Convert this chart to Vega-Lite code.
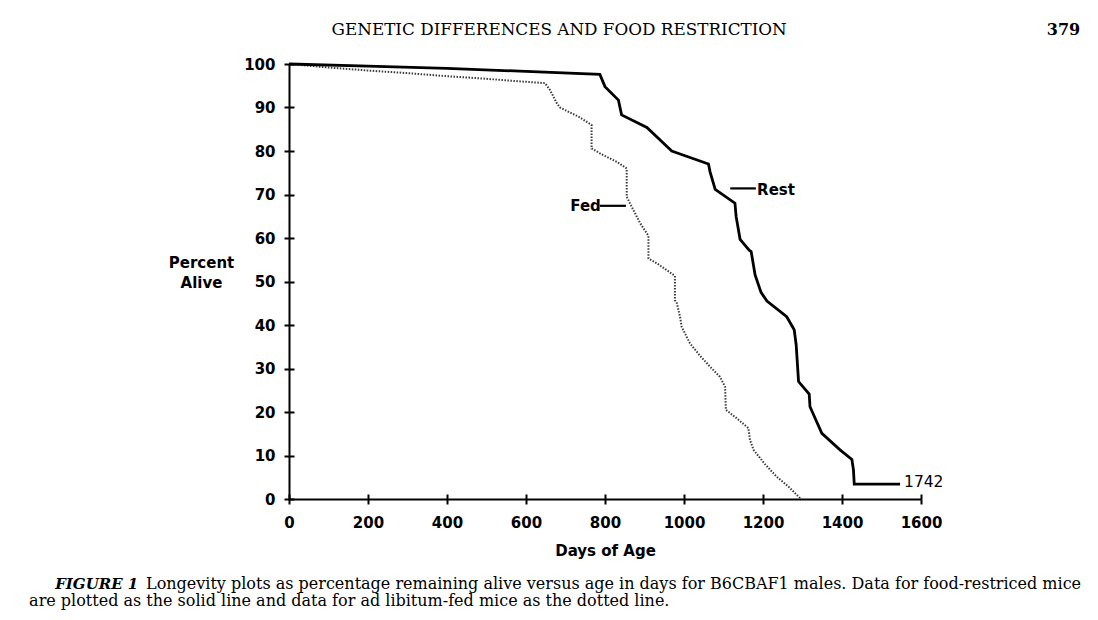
{
  "$schema": "https://vega.github.io/schema/vega-lite/v6.json",
  "width": 632,
  "height": 435,
  "autosize": {"type": "none"},
  "padding": {"left": 289, "top": 64, "right": 177, "bottom": 121},
  "background": "white",
  "config": {
    "view": {"stroke": null},
    "axis": {
      "domainColor": "black",
      "domainWidth": 2,
      "tickColor": "black",
      "tickWidth": 2,
      "tickSize": 5,
      "labelFlush": false,
      "grid": true,
      "gridColor": "black",
      "gridWidth": 2,
      "gridOpacity": 1,
      "labelFont": "DejaVu Sans",
      "labelFontWeight": "bold",
      "labelFontSize": 15,
      "labelColor": "black",
      "titleFont": "DejaVu Sans",
      "titleFontWeight": "bold",
      "titleFontSize": 15,
      "titleColor": "black"
    }
  },
  "datasets": {
    "curves": [
      {"group": "Rest", "day": 0, "pct": 100},
      {"group": "Rest", "day": 200, "pct": 99.5},
      {"group": "Rest", "day": 400, "pct": 99.0},
      {"group": "Rest", "day": 600, "pct": 98.3},
      {"group": "Rest", "day": 787, "pct": 97.6},
      {"group": "Rest", "day": 800, "pct": 94.8},
      {"group": "Rest", "day": 834, "pct": 91.7},
      {"group": "Rest", "day": 842, "pct": 88.3},
      {"group": "Rest", "day": 906, "pct": 85.4},
      {"group": "Rest", "day": 969, "pct": 80.0},
      {"group": "Rest", "day": 990, "pct": 79.3},
      {"group": "Rest", "day": 1062, "pct": 77.0},
      {"group": "Rest", "day": 1066, "pct": 75.2},
      {"group": "Rest", "day": 1079, "pct": 71.2},
      {"group": "Rest", "day": 1129, "pct": 68.0},
      {"group": "Rest", "day": 1132, "pct": 64.9},
      {"group": "Rest", "day": 1142, "pct": 59.7},
      {"group": "Rest", "day": 1165, "pct": 57.2},
      {"group": "Rest", "day": 1170, "pct": 56.9},
      {"group": "Rest", "day": 1180, "pct": 51.5},
      {"group": "Rest", "day": 1195, "pct": 47.5},
      {"group": "Rest", "day": 1210, "pct": 45.5},
      {"group": "Rest", "day": 1260, "pct": 41.9},
      {"group": "Rest", "day": 1279, "pct": 38.9},
      {"group": "Rest", "day": 1284, "pct": 35.4},
      {"group": "Rest", "day": 1290, "pct": 27.0},
      {"group": "Rest", "day": 1317, "pct": 24.1},
      {"group": "Rest", "day": 1319, "pct": 21.2},
      {"group": "Rest", "day": 1349, "pct": 15.1},
      {"group": "Rest", "day": 1395, "pct": 11.3},
      {"group": "Rest", "day": 1425, "pct": 9.1},
      {"group": "Rest", "day": 1429, "pct": 6.7},
      {"group": "Rest", "day": 1431, "pct": 3.4},
      {"group": "Rest", "day": 1547, "pct": 3.4},
      {"group": "Fed", "day": 0, "pct": 100},
      {"group": "Fed", "day": 50, "pct": 99.6},
      {"group": "Fed", "day": 100, "pct": 99.2},
      {"group": "Fed", "day": 200, "pct": 98.5},
      {"group": "Fed", "day": 300, "pct": 97.9},
      {"group": "Fed", "day": 400, "pct": 97.2},
      {"group": "Fed", "day": 500, "pct": 96.6},
      {"group": "Fed", "day": 570, "pct": 96.1},
      {"group": "Fed", "day": 648, "pct": 95.6},
      {"group": "Fed", "day": 661, "pct": 94.0},
      {"group": "Fed", "day": 678, "pct": 91.0},
      {"group": "Fed", "day": 686, "pct": 90.0},
      {"group": "Fed", "day": 710, "pct": 88.9},
      {"group": "Fed", "day": 733, "pct": 87.9},
      {"group": "Fed", "day": 766, "pct": 86.0},
      {"group": "Fed", "day": 766, "pct": 80.6},
      {"group": "Fed", "day": 790, "pct": 79.3},
      {"group": "Fed", "day": 830, "pct": 77.5},
      {"group": "Fed", "day": 855, "pct": 76.0},
      {"group": "Fed", "day": 855, "pct": 69.5},
      {"group": "Fed", "day": 863, "pct": 68.0},
      {"group": "Fed", "day": 889, "pct": 63.4},
      {"group": "Fed", "day": 910, "pct": 60.5},
      {"group": "Fed", "day": 910, "pct": 55.3},
      {"group": "Fed", "day": 931, "pct": 54.2},
      {"group": "Fed", "day": 977, "pct": 51.3},
      {"group": "Fed", "day": 977, "pct": 45.7},
      {"group": "Fed", "day": 982, "pct": 45.0},
      {"group": "Fed", "day": 990, "pct": 41.9},
      {"group": "Fed", "day": 994, "pct": 39.6},
      {"group": "Fed", "day": 1015, "pct": 35.8},
      {"group": "Fed", "day": 1040, "pct": 33.0},
      {"group": "Fed", "day": 1066, "pct": 30.4},
      {"group": "Fed", "day": 1091, "pct": 28.1},
      {"group": "Fed", "day": 1104, "pct": 25.8},
      {"group": "Fed", "day": 1106, "pct": 20.5},
      {"group": "Fed", "day": 1130, "pct": 18.8},
      {"group": "Fed", "day": 1163, "pct": 16.3},
      {"group": "Fed", "day": 1167, "pct": 13.6},
      {"group": "Fed", "day": 1176, "pct": 11.3},
      {"group": "Fed", "day": 1205, "pct": 8.0},
      {"group": "Fed", "day": 1235, "pct": 5.1},
      {"group": "Fed", "day": 1265, "pct": 2.8},
      {"group": "Fed", "day": 1296, "pct": 0}
    ],
    "leaders": [
      {"group": "Fed", "day": 787, "day2": 853, "pct": 67.4},
      {"group": "Rest", "day": 1117, "day2": 1182, "pct": 71.4}
    ],
    "labels": [
      {"text": "Fed", "day": 712, "pct": 67.4},
      {"text": "Rest", "day": 1185, "pct": 71.1},
      {"text": "1742", "day": 1557, "pct": 4.0}
    ],
    "page": [
      {"part": "header", "text": "GENETIC DIFFERENCES AND FOOD RESTRICTION", "day": 684, "pct": 106.7},
      {"part": "folio", "text": "379", "day": 2003, "pct": 106.7},
      {"part": "figure", "text": "FIGURE 1", "day": -592, "pct": -20.7},
      {"part": "caption", "text": "Longevity plots as percentage remaining alive versus age in days for B6CBAF1 males. Data for food-restriced mice", "day": -362, "pct": -20.7},
      {"part": "caption", "text": "are plotted as the solid line and data for ad libitum-fed mice as the dotted line.", "day": -658, "pct": -24.6}
    ]
  },
  "encoding": {
    "x": {
      "field": "day",
      "type": "quantitative",
      "scale": {"domain": [0, 1600], "nice": false, "zero": false},
      "axis": {
        "values": [0, 200, 400, 600, 800, 1000, 1200, 1400, 1600],
        "format": "d",
        "title": "Days of Age",
        "labelPadding": 11,
        "titleBaseline": "alphabetic",
        "titleY": 56,
        "gridDash": [5, 430],
        "gridDashOffset": 5
      }
    },
    "y": {
      "field": "pct",
      "type": "quantitative",
      "scale": {"domain": [0, 100], "nice": false},
      "axis": {
        "values": [0, 10, 20, 30, 40, 50, 60, 70, 80, 90, 100],
        "title": ["Percent", "Alive"],
        "titleAngle": 0,
        "titleAlign": "center",
        "titleBaseline": "alphabetic",
        "titleX": -88,
        "titleY": 203,
        "titleLineHeight": 20,
        "labelPadding": 9,
        "gridDash": [5, 3000]
      }
    }
  },
  "layer": [
    {
      "data": {"name": "curves"},
      "transform": [{"filter": "datum.group === 'Fed'"}],
      "mark": {"type": "line", "color": "#3a3a3a", "strokeWidth": 2, "strokeDash": [1.5, 1.5]},
      "encoding": {"order": {"value": null}}
    },
    {
      "data": {"name": "curves"},
      "transform": [{"filter": "datum.group === 'Rest'"}],
      "mark": {"type": "line", "color": "black", "strokeWidth": 2.8},
      "encoding": {"order": {"value": null}}
    },
    {
      "data": {"name": "leaders"},
      "mark": {"type": "rule", "color": "black", "strokeWidth": 2.2},
      "encoding": {"x2": {"field": "day2"}}
    },
    {
      "data": {"name": "labels"},
      "transform": [{"filter": "datum.text !== '1742'"}],
      "mark": {"type": "text", "font": "DejaVu Sans", "fontWeight": "bold", "fontSize": 15, "align": "left", "baseline": "middle", "color": "black"},
      "encoding": {"text": {"field": "text"}}
    },
    {
      "data": {"name": "labels"},
      "transform": [{"filter": "datum.text === '1742'"}],
      "mark": {"type": "text", "font": "DejaVu Sans", "fontSize": 15.5, "align": "left", "baseline": "middle", "color": "black"},
      "encoding": {"text": {"field": "text"}}
    },
    {
      "data": {"name": "page"},
      "transform": [{"filter": "datum.part === 'header'"}],
      "mark": {"type": "text", "font": "DejaVu Serif", "fontSize": 16.8, "align": "center", "baseline": "alphabetic", "color": "black"},
      "encoding": {"text": {"field": "text"}}
    },
    {
      "data": {"name": "page"},
      "transform": [{"filter": "datum.part === 'folio'"}],
      "mark": {"type": "text", "font": "DejaVu Serif", "fontWeight": "bold", "fontSize": 16, "align": "right", "baseline": "alphabetic", "color": "black"},
      "encoding": {"text": {"field": "text"}}
    },
    {
      "data": {"name": "page"},
      "transform": [{"filter": "datum.part === 'figure'"}],
      "mark": {"type": "text", "font": "DejaVu Serif", "fontWeight": "bold", "fontStyle": "italic", "fontSize": 15, "align": "left", "baseline": "alphabetic", "color": "black"},
      "encoding": {"text": {"field": "text"}}
    },
    {
      "data": {"name": "page"},
      "transform": [{"filter": "datum.part === 'caption'"}],
      "mark": {"type": "text", "font": "DejaVu Serif", "fontSize": 16, "align": "left", "baseline": "alphabetic", "color": "black"},
      "encoding": {"text": {"field": "text"}}
    }
  ]
}
